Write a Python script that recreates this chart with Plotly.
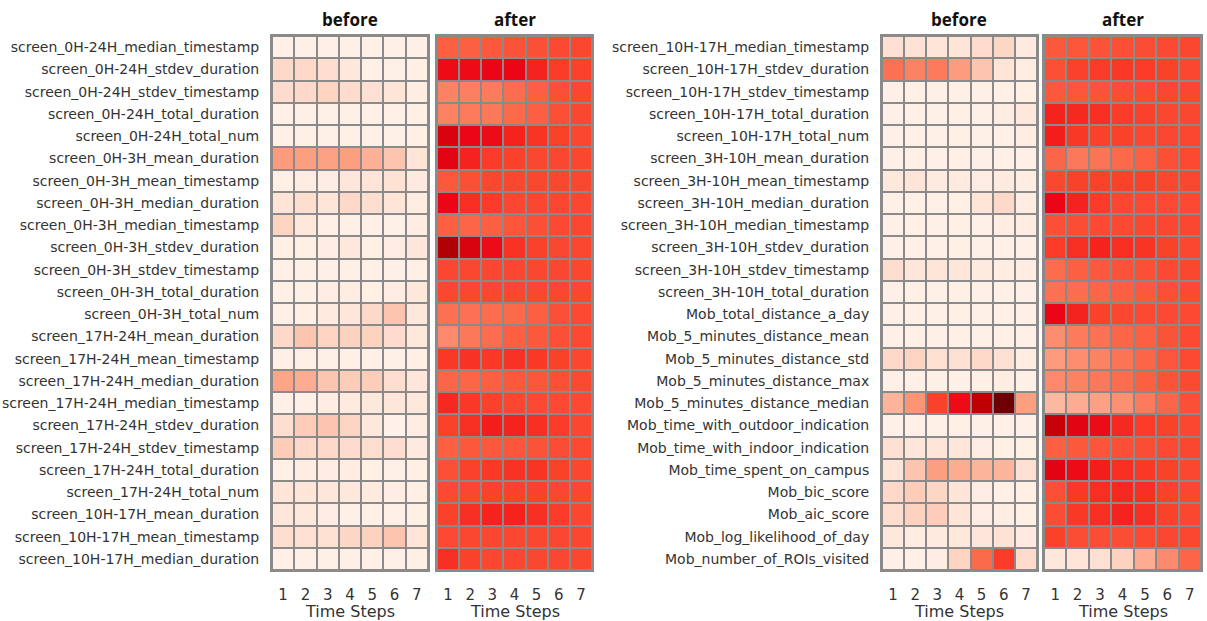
import plotly.graph_objects as go

time_steps = [1, 2, 3, 4, 5, 6, 7]

left_features = [
    "screen_0H-24H_median_timestamp", "screen_0H-24H_stdev_duration", "screen_0H-24H_stdev_timestamp",
    "screen_0H-24H_total_duration", "screen_0H-24H_total_num", "screen_0H-3H_mean_duration",
    "screen_0H-3H_mean_timestamp", "screen_0H-3H_median_duration", "screen_0H-3H_median_timestamp",
    "screen_0H-3H_stdev_duration", "screen_0H-3H_stdev_timestamp", "screen_0H-3H_total_duration",
    "screen_0H-3H_total_num", "screen_17H-24H_mean_duration", "screen_17H-24H_mean_timestamp",
    "screen_17H-24H_median_duration", "screen_17H-24H_median_timestamp", "screen_17H-24H_stdev_duration",
    "screen_17H-24H_stdev_timestamp", "screen_17H-24H_total_duration", "screen_17H-24H_total_num",
    "screen_10H-17H_mean_duration", "screen_10H-17H_mean_timestamp", "screen_10H-17H_median_duration",
]

right_features = [
    "screen_10H-17H_median_timestamp", "screen_10H-17H_stdev_duration", "screen_10H-17H_stdev_timestamp",
    "screen_10H-17H_total_duration", "screen_10H-17H_total_num", "screen_3H-10H_mean_duration",
    "screen_3H-10H_mean_timestamp", "screen_3H-10H_median_duration", "screen_3H-10H_median_timestamp",
    "screen_3H-10H_stdev_duration", "screen_3H-10H_stdev_timestamp", "screen_3H-10H_total_duration",
    "Mob_total_distance_a_day", "Mob_5_minutes_distance_mean", "Mob_5_minutes_distance_std",
    "Mob_5_minutes_distance_max", "Mob_5_minutes_distance_median", "Mob_time_with_outdoor_indication",
    "Mob_time_with_indoor_indication", "Mob_time_spent_on_campus", "Mob_bic_score",
    "Mob_aic_score", "Mob_log_likelihood_of_day", "Mob_number_of_ROIs_visited",
]

left_before = [
    [0.03, 0.03, 0.03, 0.03, 0.03, 0.03, 0.03],
    [0.15, 0.15, 0.13, 0.08, 0.03, 0.03, 0.04],
    [0.14, 0.15, 0.17, 0.14, 0.12, 0.10, 0.05],
    [0.03, 0.03, 0.03, 0.03, 0.03, 0.03, 0.04],
    [0.03, 0.03, 0.03, 0.03, 0.03, 0.03, 0.04],
    [0.33, 0.32, 0.31, 0.32, 0.27, 0.22, 0.10],
    [0.04, 0.06, 0.05, 0.09, 0.10, 0.11, 0.07],
    [0.10, 0.13, 0.10, 0.15, 0.13, 0.10, 0.06],
    [0.17, 0.08, 0.04, 0.03, 0.03, 0.03, 0.05],
    [0.04, 0.04, 0.05, 0.08, 0.04, 0.06, 0.09],
    [0.03, 0.03, 0.03, 0.03, 0.03, 0.03, 0.04],
    [0.03, 0.03, 0.06, 0.06, 0.04, 0.06, 0.08],
    [0.03, 0.04, 0.07, 0.09, 0.15, 0.22, 0.08],
    [0.15, 0.22, 0.17, 0.18, 0.18, 0.14, 0.08],
    [0.03, 0.03, 0.03, 0.03, 0.03, 0.03, 0.04],
    [0.30, 0.28, 0.22, 0.20, 0.20, 0.13, 0.09],
    [0.03, 0.03, 0.05, 0.07, 0.08, 0.09, 0.08],
    [0.13, 0.20, 0.22, 0.17, 0.08, 0.02, 0.06],
    [0.20, 0.15, 0.15, 0.14, 0.13, 0.13, 0.07],
    [0.03, 0.06, 0.05, 0.05, 0.04, 0.03, 0.04],
    [0.10, 0.10, 0.09, 0.08, 0.07, 0.05, 0.04],
    [0.09, 0.08, 0.06, 0.03, 0.03, 0.03, 0.04],
    [0.13, 0.12, 0.12, 0.16, 0.18, 0.22, 0.10],
    [0.03, 0.03, 0.03, 0.03, 0.03, 0.03, 0.04],
]

left_after = [
    [0.50, 0.50, 0.52, 0.54, 0.55, 0.57, 0.58],
    [0.78, 0.78, 0.80, 0.80, 0.70, 0.62, 0.60],
    [0.40, 0.41, 0.42, 0.46, 0.50, 0.55, 0.58],
    [0.40, 0.42, 0.43, 0.47, 0.50, 0.55, 0.58],
    [0.84, 0.80, 0.78, 0.70, 0.64, 0.60, 0.58],
    [0.82, 0.70, 0.62, 0.60, 0.58, 0.58, 0.58],
    [0.52, 0.55, 0.58, 0.58, 0.58, 0.58, 0.58],
    [0.80, 0.66, 0.62, 0.58, 0.58, 0.58, 0.58],
    [0.50, 0.48, 0.50, 0.53, 0.55, 0.57, 0.58],
    [0.92, 0.84, 0.78, 0.65, 0.60, 0.58, 0.58],
    [0.58, 0.58, 0.58, 0.58, 0.58, 0.58, 0.58],
    [0.58, 0.58, 0.58, 0.58, 0.58, 0.58, 0.58],
    [0.45, 0.45, 0.46, 0.47, 0.50, 0.55, 0.57],
    [0.38, 0.43, 0.46, 0.50, 0.52, 0.55, 0.57],
    [0.63, 0.65, 0.63, 0.65, 0.63, 0.60, 0.58],
    [0.48, 0.48, 0.50, 0.52, 0.53, 0.55, 0.57],
    [0.68, 0.63, 0.60, 0.58, 0.57, 0.57, 0.57],
    [0.60, 0.66, 0.72, 0.70, 0.66, 0.62, 0.58],
    [0.50, 0.52, 0.52, 0.53, 0.54, 0.56, 0.57],
    [0.55, 0.60, 0.63, 0.65, 0.64, 0.60, 0.58],
    [0.57, 0.58, 0.60, 0.60, 0.60, 0.58, 0.58],
    [0.60, 0.66, 0.70, 0.70, 0.66, 0.62, 0.58],
    [0.57, 0.58, 0.58, 0.58, 0.58, 0.58, 0.58],
    [0.66, 0.60, 0.58, 0.58, 0.58, 0.58, 0.58],
]

right_before = [
    [0.12, 0.11, 0.10, 0.10, 0.14, 0.16, 0.07],
    [0.45, 0.40, 0.42, 0.33, 0.22, 0.10, 0.06],
    [0.03, 0.03, 0.03, 0.03, 0.03, 0.03, 0.04],
    [0.03, 0.03, 0.03, 0.03, 0.03, 0.06, 0.08],
    [0.03, 0.03, 0.03, 0.03, 0.03, 0.03, 0.05],
    [0.03, 0.03, 0.03, 0.03, 0.03, 0.03, 0.03],
    [0.08, 0.10, 0.07, 0.07, 0.06, 0.07, 0.05],
    [0.03, 0.03, 0.03, 0.04, 0.10, 0.15, 0.06],
    [0.03, 0.03, 0.03, 0.03, 0.03, 0.05, 0.06],
    [0.03, 0.03, 0.03, 0.03, 0.03, 0.03, 0.03],
    [0.13, 0.09, 0.10, 0.09, 0.07, 0.05, 0.05],
    [0.03, 0.03, 0.03, 0.03, 0.03, 0.03, 0.03],
    [0.03, 0.03, 0.03, 0.03, 0.03, 0.03, 0.03],
    [0.03, 0.03, 0.03, 0.03, 0.03, 0.03, 0.03],
    [0.15, 0.17, 0.12, 0.12, 0.15, 0.12, 0.06],
    [0.03, 0.03, 0.03, 0.03, 0.04, 0.05, 0.03],
    [0.26, 0.35, 0.60, 0.78, 0.90, 1.00, 0.32],
    [0.03, 0.03, 0.03, 0.03, 0.03, 0.03, 0.03],
    [0.12, 0.09, 0.10, 0.09, 0.06, 0.04, 0.04],
    [0.10, 0.22, 0.32, 0.28, 0.26, 0.26, 0.12],
    [0.15, 0.20, 0.16, 0.10, 0.06, 0.03, 0.04],
    [0.13, 0.18, 0.20, 0.10, 0.06, 0.05, 0.04],
    [0.08, 0.06, 0.07, 0.08, 0.09, 0.11, 0.07],
    [0.03, 0.03, 0.05, 0.17, 0.47, 0.62, 0.14],
]

right_after = [
    [0.52, 0.53, 0.54, 0.55, 0.56, 0.57, 0.58],
    [0.55, 0.60, 0.62, 0.63, 0.62, 0.60, 0.58],
    [0.52, 0.53, 0.54, 0.56, 0.57, 0.58, 0.58],
    [0.70, 0.68, 0.66, 0.62, 0.60, 0.58, 0.58],
    [0.72, 0.63, 0.60, 0.60, 0.58, 0.58, 0.58],
    [0.48, 0.43, 0.44, 0.47, 0.50, 0.55, 0.57],
    [0.58, 0.60, 0.60, 0.60, 0.60, 0.58, 0.58],
    [0.80, 0.70, 0.62, 0.58, 0.57, 0.57, 0.57],
    [0.55, 0.56, 0.57, 0.57, 0.58, 0.58, 0.58],
    [0.62, 0.66, 0.70, 0.66, 0.64, 0.60, 0.58],
    [0.46, 0.50, 0.52, 0.54, 0.55, 0.57, 0.58],
    [0.45, 0.46, 0.48, 0.50, 0.52, 0.55, 0.57],
    [0.80, 0.70, 0.60, 0.58, 0.57, 0.57, 0.57],
    [0.37, 0.42, 0.45, 0.48, 0.50, 0.54, 0.57],
    [0.33, 0.37, 0.40, 0.44, 0.48, 0.53, 0.57],
    [0.38, 0.40, 0.43, 0.46, 0.50, 0.54, 0.57],
    [0.25, 0.28, 0.31, 0.36, 0.42, 0.48, 0.55],
    [0.88, 0.82, 0.78, 0.68, 0.62, 0.60, 0.58],
    [0.50, 0.52, 0.53, 0.55, 0.56, 0.57, 0.58],
    [0.82, 0.78, 0.72, 0.66, 0.63, 0.60, 0.58],
    [0.55, 0.63, 0.66, 0.68, 0.66, 0.60, 0.58],
    [0.56, 0.63, 0.66, 0.70, 0.66, 0.60, 0.58],
    [0.60, 0.56, 0.56, 0.56, 0.57, 0.58, 0.58],
    [0.08, 0.10, 0.12, 0.18, 0.28, 0.38, 0.48],
]

colorscale = [
    [0.0, "rgb(255,245,238)"],
    [0.1, "rgb(254,229,216)"],
    [0.2, "rgb(253,205,185)"],
    [0.3, "rgb(252,165,135)"],
    [0.4, "rgb(252,130,100)"],
    [0.5, "rgb(252,95,65)"],
    [0.6, "rgb(250,65,42)"],
    [0.7, "rgb(245,35,30)"],
    [0.8, "rgb(235,5,22)"],
    [0.9, "rgb(190,0,5)"],
    [1.0, "rgb(108,0,3)"],
]

W, H = 1207, 621
x_domains = [(272, 428), (437, 592), (882, 1037), (1044, 1201)]
y_top, y_bot = 36, 570
ydom = [1 - y_bot / H, 1 - y_top / H]

panels = [
    (left_before, left_features, "before", True),
    (left_after, left_features, "after", False),
    (right_before, right_features, "before", True),
    (right_after, right_features, "after", False),
]

fig = go.Figure()
layout = dict(
    width=W, height=H,
    margin=dict(l=0, r=0, t=0, b=0, autoexpand=False),
    paper_bgcolor="white",
    plot_bgcolor="#8a8a8a",
    showlegend=False,
    font=dict(family="DejaVu Sans", color="#333333"),
    annotations=[],
)

for i, (z, feats, title, show_y) in enumerate(panels):
    n = i + 1
    xa = "x" if n == 1 else f"x{n}"
    ya = "y" if n == 1 else f"y{n}"
    fig.add_trace(go.Heatmap(
        z=z, x=time_steps, y=feats, xaxis=xa, yaxis=ya,
        colorscale=colorscale, zmin=0, zmax=1, showscale=False,
        xgap=2, ygap=2,
    ))
    x0, x1 = x_domains[i]
    layout[f"xaxis{'' if n == 1 else n}"] = dict(
        domain=[x0 / W, x1 / W], anchor=ya, range=[0.5, 7.5], automargin=False,
        tickmode="array", tickvals=time_steps, ticktext=[str(t) for t in time_steps],
        ticks="", ticklabelstandoff=10, tickfont=dict(size=15, color="#333333"),
        showgrid=False, zeroline=False,
        showline=True, mirror=True, linecolor="#8a8a8a", linewidth=2,
    )
    layout[f"yaxis{'' if n == 1 else n}"] = dict(
        domain=ydom, anchor=xa, type="category", autorange="reversed", automargin=False,
        showticklabels=show_y, ticks="", ticklabelstandoff=8,
        tickfont=dict(size=14, color="#333333"),
        showgrid=False, zeroline=False,
        showline=True, mirror=True, linecolor="#8a8a8a", linewidth=2,
    )
    layout["annotations"].append(dict(
        text=f"<b>{title}</b>", xref="paper", yref="paper",
        x=(x0 + x1) / 2 / W, y=1 - 19 / H, xanchor="center", yanchor="middle",
        showarrow=False, font=dict(family="Open Sans", size=17, color="#111111"),
    ))
    layout["annotations"].append(dict(
        text="Time Steps", xref="paper", yref="paper",
        x=(x0 + x1) / 2 / W, y=1 - 611 / H, xanchor="center", yanchor="middle",
        showarrow=False, font=dict(family="DejaVu Sans", size=16, color="#333333"),
    ))

fig.update_layout(**layout)
fig.write_html("out.html")
